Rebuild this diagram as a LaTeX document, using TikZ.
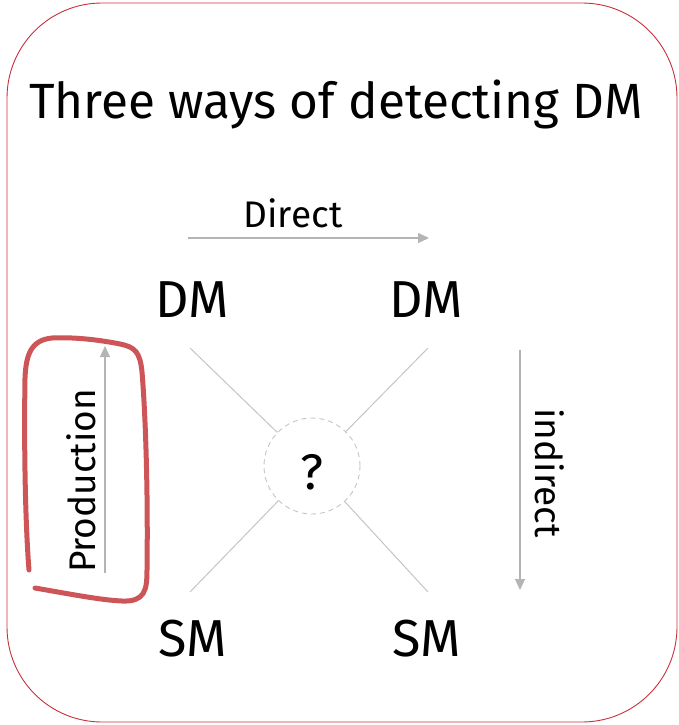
\documentclass[tikz,border=0pt]{standalone}
\usepackage{fontspec}
\setmainfont{Lato}
\newfontfamily\titlefont{Fira Sans}
\newfontfamily\handfont{Fira Sans}
\usetikzlibrary{arrows.meta}
\definecolor{framecol}{HTML}{C8303C}
\definecolor{hilite}{HTML}{CD5457}
\definecolor{arr}{HTML}{B4B4B4}
\definecolor{conn}{HTML}{C4C4C4}
\tikzset{
  hand/.style={font=\handfont\fontsize{52}{58}\selectfont, inner sep=0pt},
  lbl/.style={font=\handfont\fontsize{37}{42}\selectfont, inner sep=0pt},
  grayarrow/.style={draw=arr, line width=1.2pt, -{Triangle[length=11pt,width=10pt]}},
  connline/.style={draw=conn, line width=1pt},
}
\begin{document}
\begin{tikzpicture}[x=1pt,y=-1pt]
\useasboundingbox (0,0) rectangle (678,725);
% frame
\draw[framecol, line width=0.9pt, rounded corners=95pt] (7,3) rectangle (677,722);
% title
\node[inner sep=0pt, anchor=base, font=\titlefont\fontsize{49.5}{56}\selectfont] (title) at (336,118) {Three ways of detecting DM};
% nodes
\node[hand, anchor=base] (dm1) at (192,317) {DM};
\node[hand, anchor=base] (dm2) at (426,317) {DM};
\node[hand, anchor=base] (sm1) at (193,656) {SM};
\node[hand, anchor=base] (sm2) at (427,656) {SM};
\node[draw=conn, dashed, dash pattern=on 5pt off 4pt, circle, minimum size=96pt, inner sep=0pt, line width=0.9pt] (q) at (312,466) {};
\node[font=\handfont\fontsize{50}{56}\selectfont, inner sep=0pt, anchor=base] (qm) at (312,489) {?};
% connectors
\coordinate (c1) at (190,348);
\coordinate (c2) at (428,348);
\coordinate (c3) at (190,592);
\coordinate (c4) at (428,592);
\draw[connline] (c1) -- (q);
\draw[connline] (c2) -- (q);
\draw[connline] (c3) -- (q);
\draw[connline] (c4) -- (q);
% direct
\coordinate (d1) at (188,238);
\coordinate (d2) at (429,238);
\draw[grayarrow] (d1) -- (d2);
\node[lbl, anchor=base] (direct) at (293,227) {Direct};
% indirect
\coordinate (i1) at (520,350);
\coordinate (i2) at (520,590);
\draw[grayarrow] (i1) -- (i2);
\node[lbl, rotate=-90, anchor=base] (indirect) at (535,473) {indirect};
% production
\coordinate (p1) at (105,573);
\coordinate (p2) at (105,346);
\draw[grayarrow] (p1) -- (p2);
\node[lbl, rotate=90, anchor=base] (production) at (95,481) {Production};
% red highlight
\draw[hilite, line width=5pt, line cap=round]
  (35,588) .. controls (70,594) and (100,600) .. (122,601)
  .. controls (145,602) and (147,590) .. (147,570)
  .. controls (148,500) and (146,420) .. (142,372)
  .. controls (140,352) and (135,347) .. (120,344)
  .. controls (95,339) and (70,337) .. (52,338)
  .. controls (32,340) and (26,353) .. (25,378)
  .. controls (24,440) and (25,520) .. (29,570);
\end{tikzpicture}
\end{document}
